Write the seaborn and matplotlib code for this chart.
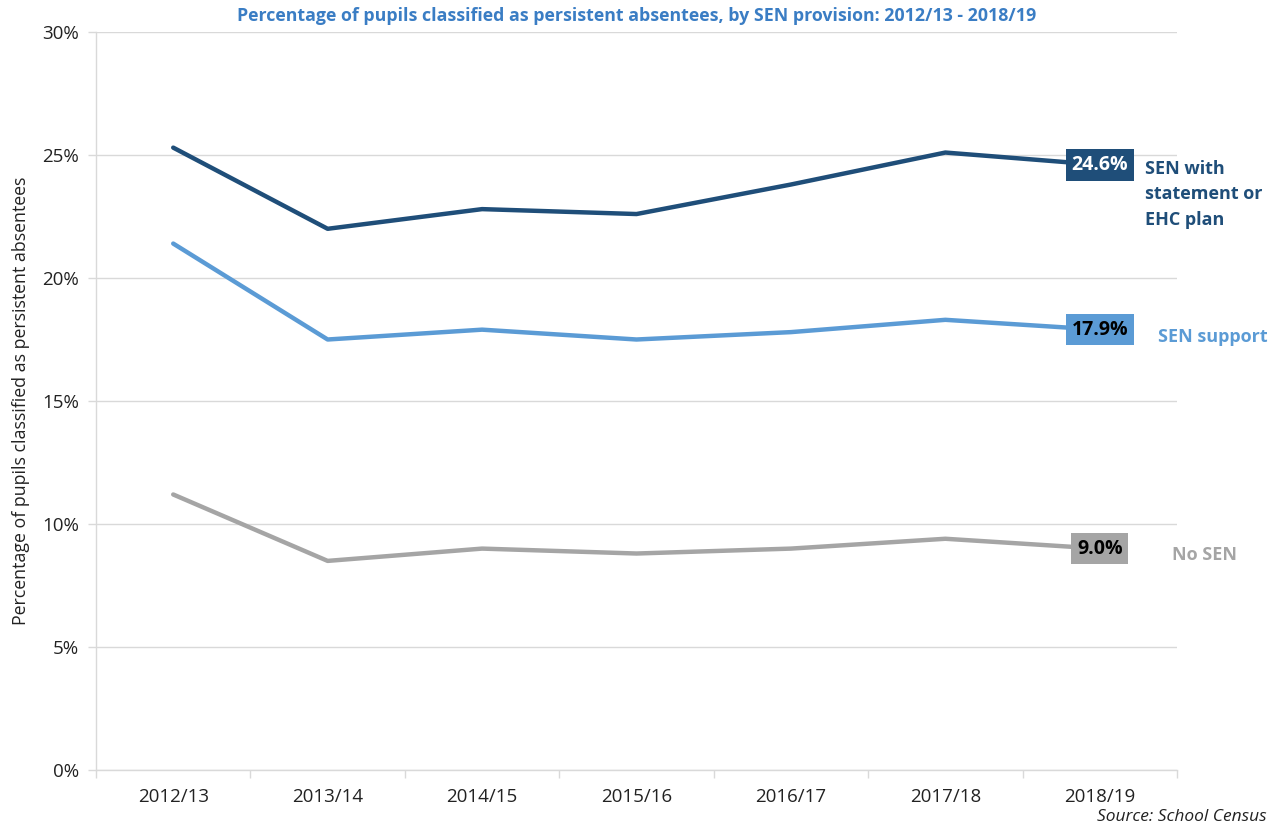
import matplotlib
matplotlib.use("Agg")
import matplotlib.pyplot as plt
import seaborn as sns
import pandas as pd
from matplotlib.ticker import FixedLocator, FuncFormatter

years = ["2012/13", "2013/14", "2014/15", "2015/16", "2016/17", "2017/18", "2018/19"]
sen_statement = [25.3, 22.0, 22.8, 22.6, 23.8, 25.1, 24.6]
sen_support = [21.4, 17.5, 17.9, 17.5, 17.8, 18.3, 17.9]
no_sen = [11.2, 8.5, 9.0, 8.8, 9.0, 9.4, 9.0]
series_names = ["SEN with\nstatement or\nEHC plan", "SEN support", "No SEN"]
colors = ["#1F4E79", "#5B9BD5", "#A5A5A5"]
label_text_colors = ["white", "black", "black"]

sns.set_theme(style="white")
plt.rcParams['font.family'] = ['Open Sans', 'DejaVu Sans']

rows = []
for name, vals in zip(series_names, [sen_statement, sen_support, no_sen]):
    for i, (y, v) in enumerate(zip(years, vals)):
        rows.append({"year": y, "idx": i, "value": v, "series": name})
df = pd.DataFrame(rows)

fig = plt.figure(figsize=(12.75, 8.27), dpi=100)
ax = fig.add_axes([96/1275, 1 - 770/827, (1177-96)/1275, (770-32)/827])

sns.lineplot(data=df, x="idx", y="value", hue="series", hue_order=series_names,
             palette=colors, linewidth=3.2, ax=ax, legend=False)

ax.set_xlim(-0.5, len(years) - 0.5)
ax.set_ylim(0, 30)
ax.set_yticks([0, 5, 10, 15, 20, 25, 30])
ax.yaxis.set_major_formatter(FuncFormatter(lambda v, p: f"{v:.0f}%"))
ax.yaxis.grid(True, color="#D9D9D9", linewidth=1)
ax.set_axisbelow(True)

ax.set_xticks(range(len(years)))
ax.set_xticklabels(years)
ax.xaxis.set_minor_locator(FixedLocator([i - 0.5 for i in range(len(years) + 1)]))
ax.tick_params(axis="x", which="major", length=0, pad=13, labelsize=13.5, colors="#222222")
ax.tick_params(axis="x", which="minor", length=6, width=1, color="#D9D9D9", direction="out", bottom=True)
ax.tick_params(axis="y", which="major", length=6, width=1, color="#D9D9D9", left=True,
               labelsize=13.5, colors="#222222", pad=6)

for s in ["top", "right"]:
    ax.spines[s].set_visible(False)
for s in ["left", "bottom"]:
    ax.spines[s].set_color("#D9D9D9")
    ax.spines[s].set_linewidth(1)

ax.set_xlabel("")
ax.set_ylabel("Percentage of pupils classified as persistent absentees", fontsize=12.8,
              color="#222222", labelpad=9)

ax.set_title("Percentage of pupils classified as persistent absentees, by SEN provision: 2012/13 - 2018/19",
             fontsize=12.8, fontweight="bold", color="#3A7DC4", pad=8)

last = len(years) - 1
name_offsets = [0.29, 0.375, 0.47]
name_dy = [-1.2, -0.3, -0.25]
for vals, name, col, tcol, off, dy in zip([sen_statement, sen_support, no_sen], series_names,
                                           colors, label_text_colors, name_offsets, name_dy):
    v = vals[-1]
    ax.text(last, v, f"{v:.1f}%", ha="center", va="center", fontsize=14, fontweight="bold",
            color=tcol, bbox=dict(boxstyle="square,pad=0.3", facecolor=col, edgecolor="none"),
            zorder=5, clip_on=False)
    ax.text(last + off, v + dy, name, ha="left", va="center",
            fontsize=13, fontweight="bold", color=col, linespacing=1.55, clip_on=False)

fig.text(1267/1275, 1 - 817/827, "Source: School Census", ha="right", va="center",
         fontsize=12.5, style="italic", color="#222222")

fig.savefig("out.png", dpi=100)
